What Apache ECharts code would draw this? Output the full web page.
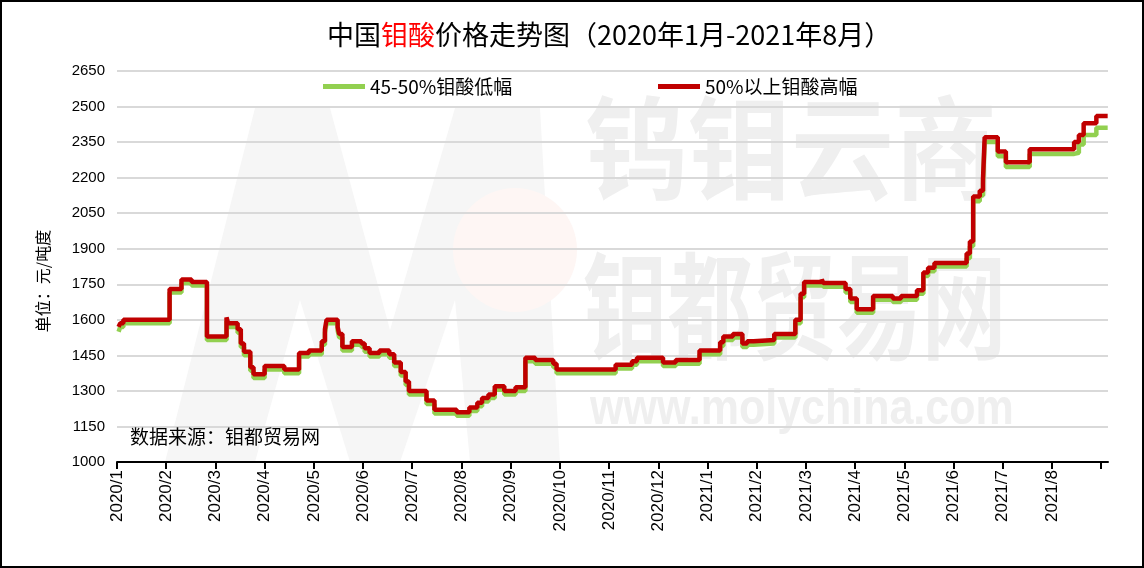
<!DOCTYPE html>
<html>
<head>
<meta charset="utf-8">
<script src="https://cdn.jsdelivr.net/npm/echarts@6/dist/echarts.min.js"></script>
<style>
html,body{margin:0;padding:0;background:#fff;}
#chart{width:1144px;height:568px;}
</style>
</head>
<body>
<div id="chart"></div>
<script>
// ---- data ----
const dates = [
'2020-01-02','2020-01-03','2020-01-05','2020-02-03','2020-02-10','2020-02-16','2020-02-25',
'2020-03-08','2020-03-09','2020-03-15','2020-03-17','2020-03-19','2020-03-23','2020-03-25',
'2020-04-01','2020-04-13','2020-04-22','2020-04-28','2020-05-06','2020-05-08','2020-05-09',
'2020-05-16','2020-05-17','2020-05-19','2020-05-25','2020-05-31','2020-06-02','2020-06-05',
'2020-06-11','2020-06-17','2020-06-20','2020-06-24','2020-06-27','2020-06-29','2020-07-10',
'2020-07-15','2020-07-29','2020-08-06','2020-08-11','2020-08-14','2020-08-18','2020-08-22',
'2020-08-28','2020-09-04','2020-09-10','2020-09-16','2020-09-27','2020-09-29','2020-11-05',
'2020-11-15','2020-11-18','2020-12-04','2020-12-12','2020-12-27','2021-01-09','2021-01-11',
'2021-01-17','2021-01-23','2021-01-26','2021-01-30','2021-02-11','2021-02-23','2021-02-26',
'2021-02-28','2021-03-11','2021-03-12','2021-03-26','2021-03-29','2021-04-02','2021-04-12',
'2021-04-24','2021-04-29','2021-05-09','2021-05-13','2021-05-16','2021-05-20','2021-06-09',
'2021-06-11','2021-06-13','2021-06-17','2021-06-19','2021-06-20','2021-06-28','2021-07-03',
'2021-07-18','2021-08-15','2021-08-18','2021-08-21','2021-08-29','2021-09-05'
];
const highValues = [
1570,1585,1600,1730,1770,1760,1530,
1610,1585,1560,1500,1465,1400,1370,
1405,1390,1460,1470,1510,1560,1600,
1570,1540,1485,1510,1500,1480,1460,
1470,1455,1420,1380,1340,1300,1260,
1220,1210,1230,1250,1270,1285,1320,
1300,1315,1440,1430,1415,1390,1410,
1425,1440,1420,1430,1470,1505,1530,
1540,1500,1510,1515,1540,1600,1710,
1760,1770,1755,1730,1690,1645,1700,
1690,1700,1725,1800,1820,1840,1880,
1930,2120,2145,2195,2370,2310,2265,
2320,2350,2380,2430,2460,2460
];
const lowValues = [
1550,1570,1585,1715,1755,1745,1515,
1595,1570,1545,1485,1450,1385,1355,
1390,1375,1445,1455,1495,1545,1585,
1555,1525,1470,1495,1485,1465,1445,
1455,1440,1405,1365,1325,1285,1245,
1205,1195,1215,1235,1255,1270,1305,
1285,1300,1425,1415,1400,1375,1395,
1410,1425,1405,1415,1455,1490,1515,
1525,1485,1495,1500,1525,1585,1695,
1745,1755,1740,1715,1675,1630,1685,
1675,1685,1710,1785,1805,1825,1860,
1910,2100,2125,2175,2350,2290,2245,
2300,2305,2340,2380,2410,2410
];
const seriesNames = ['45-50%钼酸低幅','50%以上钼酸高幅'];
const yTicks = [1000,1150,1300,1450,1600,1750,1900,2050,2200,2350,2500,2650];
const monthLabels = ['2020/1','2020/2','2020/3','2020/4','2020/5','2020/6','2020/7','2020/8','2020/9','2020/10',
  '2020/11','2020/12','2021/1','2021/2','2021/3','2021/4','2021/5','2021/6','2021/7','2021/8'];
const startYear = 2020;

// date -> month position (0 = start of 2020/1)
function monthPos(s){
  const [y,m,d] = s.split('-').map(Number);
  const dim = new Date(y, m, 0).getDate();
  return (y-startYear)*12 + (m-1) + (d-1)/dim;
}
const lowData = dates.map((d,i)=>[monthPos(d), lowValues[i]]);
const highData = dates.map((d,i)=>[monthPos(d), highValues[i]]);

const chart = echarts.init(document.getElementById('chart'), null, {renderer:'canvas'});
const cjk = '"Noto Sans CJK SC", "Noto Sans", sans-serif';
const lat = '"Liberation Sans", Arial, sans-serif';
const wm = '#efefef';

chart.setOption({
  backgroundColor:'#ffffff',
  animation:false,
  title:{
    text:'中国{r|钼酸}价格走势图（2020年1月-2021年8月）',
    left:322, top:16,
    textStyle:{fontFamily:cjk, fontSize:27, fontWeight:'normal', color:'#000',
      rich:{r:{fontFamily:cjk, fontSize:27, color:'#ff0000'}}}
  },
  legend:[
    {data:[seriesNames[0]], left:318, top:72, itemWidth:42, itemHeight:5, icon:'rect',
     textStyle:{fontFamily:cjk, fontSize:19, color:'#000'}},
    {data:[seriesNames[1]], left:653, top:72, itemWidth:42, itemHeight:5, icon:'rect',
     textStyle:{fontFamily:cjk, fontSize:19, color:'#000'}}
  ],
  grid:{left:117, right:36, top:71, bottom:106, containLabel:false},
  xAxis:{
    type:'value', min:0, max:20.14, interval:1,
    axisLine:{show:true, lineStyle:{color:'#000', width:2}},
    axisTick:{show:true, length:7, lineStyle:{color:'#000', width:2}},
    splitLine:{show:false},
    axisLabel:{
      rotate:90, margin:8, fontFamily:lat, fontSize:17, color:'#000',
      showMaxLabel:false,
      formatter:function(v){
        if (Math.abs(v-Math.round(v))>1e-6) return '';
        const k = Math.round(v);
        return monthLabels[k] || '';
      }
    }
  },
  yAxis:{
    type:'value', min:yTicks[0], max:yTicks[yTicks.length-1], interval:150,
    axisLine:{show:false}, axisTick:{show:false},
    splitLine:{show:true, lineStyle:{color:'#d9d9d9', width:2}},
    axisLabel:{fontFamily:lat, fontSize:15, color:'#000', margin:12,
      formatter:function(v){ return String(v); }}
  },
  graphic:[
    {type:'rect', z:100, silent:true, shape:{x:1,y:1,width:1142,height:566},
     style:{fill:'none', stroke:'#000', lineWidth:2}},
    // watermark
    {type:'polygon', z:-10, silent:true, shape:{points:[[165,462],[255,108],[330,108],[390,330],[455,108],[540,108],[560,462],[470,462],[455,300],[400,462],[350,462],[300,300],[255,462]]},
     style:{fill:'#f6f6f6'}},
    {type:'circle', z:-9, silent:true, shape:{cx:515, cy:250, r:62}, style:{fill:'#fef6f4'}},
    {type:'text', z:-8, silent:true, left:585, top:92, style:{text:'钨钼云商', font:'bold 112px "Noto Sans CJK SC"', fill:wm}, scaleX:0.92},
    {type:'text', z:-8, silent:true, left:583, top:248, style:{text:'钼都贸易网', font:'bold 116px "Noto Sans CJK SC"', fill:wm}, scaleX:0.73},
    {type:'text', z:-8, silent:true, left:590, top:385, style:{text:'www.molychina.com', font:'bold 50px "Liberation Sans"', fill:wm}, scaleX:0.86},
    // y axis name
    {type:'text', z:50, silent:true, x:43, y:281, rotation:Math.PI/2,
     style:{text:'单位：元/吨度', font:'16px "Noto Sans CJK SC"', fill:'#000', textAlign:'center', textVerticalAlign:'middle'}},
    // source
    {type:'text', z:50, silent:true, left:130, top:427,
     style:{text:'数据来源：钼都贸易网', font:'19px "Noto Sans CJK SC"', fill:'#000'}}
  ],
  series:[
    {name:seriesNames[0], type:'line', step:'end', data:lowData, symbol:'none', z:3,
     lineStyle:{color:'#92d050', width:4.5}, itemStyle:{color:'#92d050'}},
    {name:seriesNames[1], type:'line', step:'end', data:highData, symbol:'none', z:4,
     lineStyle:{color:'#c00000', width:4.5}, itemStyle:{color:'#c00000'}}
  ]
});
</script>
</body>
</html>
